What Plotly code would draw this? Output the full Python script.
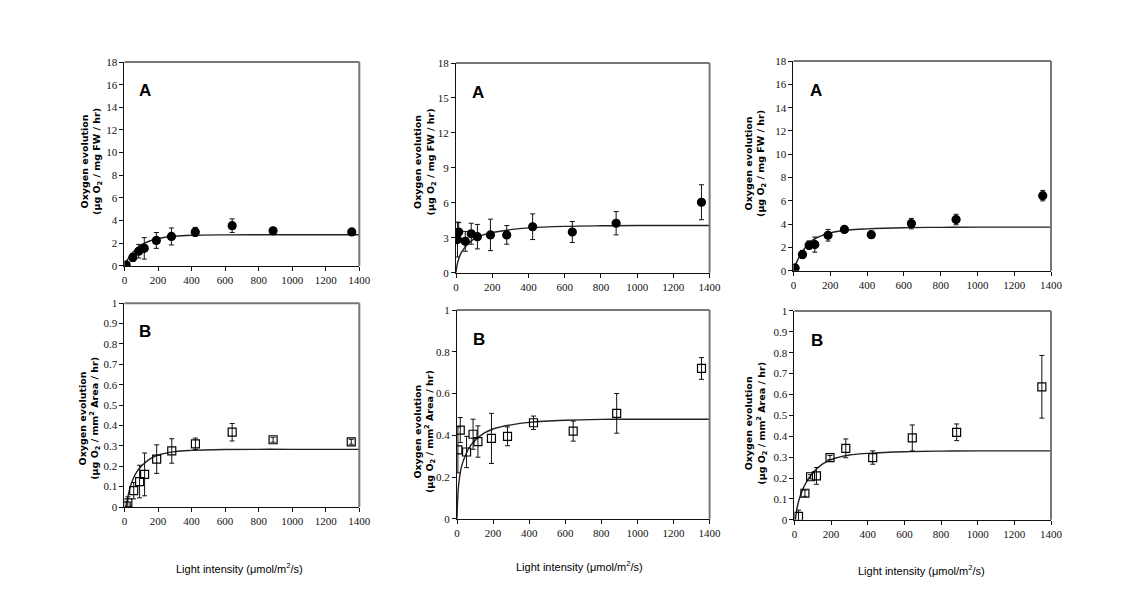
import plotly.graph_objects as go

W, H = 1130, 605

# ---------------- data ----------------
# Row A (per mg FW), filled circles
xA1 = [10, 50, 85, 118, 190, 280, 422, 642, 886, 1355]
yA1 = [0.1, 0.75, 1.3, 1.55, 2.25, 2.6, 3.0, 3.55, 3.1, 3.0]
eA1 = [0.15, 0.35, 0.6, 0.95, 0.7, 0.75, 0.4, 0.6, 0.15, 0.2]
cxA1 = [0, 10, 25, 50, 75, 100, 150, 200, 300, 400, 600, 800, 1000, 1400]
cyA1 = [0, 0.3, 0.7, 1.2, 1.55, 1.85, 2.2, 2.42, 2.62, 2.7, 2.74, 2.75, 2.75, 2.75]

xA2 = [8, 15, 51, 84, 118, 190, 280, 423, 642, 884, 1355]
yA2 = [2.85, 3.5, 2.7, 3.35, 3.1, 3.25, 3.25, 3.95, 3.5, 4.25, 6.05]
eA2 = [1.5, 0.8, 0.85, 0.9, 1.05, 1.35, 0.8, 1.1, 0.9, 1.0, 1.5]
cxA2 = [0, 5, 15, 30, 50, 75, 100, 150, 200, 300, 400, 600, 800, 1000, 1400]
cyA2 = [0, 0.6, 1.2, 1.75, 2.2, 2.6, 2.9, 3.25, 3.45, 3.7, 3.85, 3.98, 4.03, 4.05, 4.05]

xA3 = [9, 49, 85, 116, 188, 277, 423, 641, 884, 1355]
yA3 = [0.25, 1.4, 2.2, 2.25, 3.05, 3.55, 3.1, 4.05, 4.4, 6.45]
eA3 = [0.3, 0.35, 0.35, 0.65, 0.5, 0.25, 0.3, 0.45, 0.45, 0.45]
cxA3 = [0, 10, 25, 50, 75, 100, 150, 200, 300, 400, 600, 800, 1000, 1400]
cyA3 = [0, 0.45, 1.0, 1.7, 2.2, 2.6, 3.0, 3.25, 3.5, 3.6, 3.7, 3.73, 3.75, 3.75]

# Row B (per mm2 area), open squares
xB1 = [10, 20, 55, 90, 120, 192, 282, 423, 642, 886, 1352]
yB1 = [0.005, 0.02, 0.08, 0.125, 0.16, 0.235, 0.275, 0.31, 0.367, 0.33, 0.32]
eB1 = [0.02, 0.03, 0.04, 0.08, 0.105, 0.07, 0.06, 0.028, 0.043, 0.012, 0.012]
cxB1 = [10, 20, 35, 50, 75, 100, 150, 200, 300, 400, 600, 800, 1000, 1400]
cyB1 = [0.0, 0.05, 0.1, 0.135, 0.175, 0.2, 0.235, 0.255, 0.272, 0.278, 0.282, 0.283, 0.283, 0.283]

xB2 = [5, 18, 53, 89, 116, 191, 280, 424, 644, 885, 1355]
yB2 = [0.33, 0.425, 0.32, 0.405, 0.37, 0.385, 0.395, 0.46, 0.42, 0.505, 0.72]
eB2 = [0.11, 0.06, 0.075, 0.072, 0.075, 0.12, 0.045, 0.032, 0.048, 0.095, 0.052]
cxB2 = [0, 3, 10, 25, 50, 75, 100, 150, 200, 300, 400, 600, 800, 1000, 1400]
cyB2 = [0, 0.08, 0.17, 0.25, 0.31, 0.35, 0.375, 0.41, 0.43, 0.45, 0.462, 0.472, 0.476, 0.477, 0.477]

xB3 = [22, 57, 88, 120, 194, 280, 427, 643, 885, 1350]
yB3 = [0.016, 0.127, 0.206, 0.21, 0.298, 0.342, 0.298, 0.392, 0.419, 0.637]
eB3 = [0.03, 0.015, 0.01, 0.04, 0.01, 0.045, 0.032, 0.062, 0.04, 0.15]
cxB3 = [5, 15, 30, 50, 75, 100, 150, 200, 300, 400, 600, 800, 1000, 1400]
cyB3 = [0, 0.06, 0.11, 0.155, 0.195, 0.225, 0.265, 0.288, 0.31, 0.318, 0.326, 0.329, 0.33, 0.33]

panel_letters = ["A", "A", "A", "B", "B", "B"]
ytitle_A = "Oxygen evolution<br>(μg O<sub>2</sub> / mg FW / hr)"
ytitle_B = "Oxygen evolution<br>(μg O<sub>2</sub> / mm<sup>2</sup> Area / hr)"
xtitle = "Light intensity (μmol/m<sup>2</sup>/s)"

# ---------------- layout geometry (pixels) ----------------
# (left, right, top, bottom) of each plot area
boxes = [
    (115, 353, 49, 257),
    (451, 708, 50, 264),
    (793, 1054, 48, 262),
    (115, 353, 295, 503),
    (452, 708, 302, 515),
    (794, 1054, 303, 516),
]
# centre of the rotated y titles (pixels)
ytitle_pos = [(81, 150), (419, 151), (755, 152), (80, 412), (419, 426), (755, 417)]
xtitle_pos = [(232, 565), (576, 563), (923, 567)]
yranges = [(0, 18), (0, 18), (0, 18), (0, 1), (0, 1), (0, 1)]
ydticks = [2, 3, 2, 0.1, 0.2, 0.1]

series = [
    (xA1, yA1, eA1, cxA1, cyA1),
    (xA2, yA2, eA2, cxA2, cyA2),
    (xA3, yA3, eA3, cxA3, cyA3),
    (xB1, yB1, eB1, cxB1, cyB1),
    (xB2, yB2, eB2, cxB2, cyB2),
    (xB3, yB3, eB3, cxB3, cyB3),
]

fig = go.Figure()
tickfont = dict(family="Liberation Serif", size=11, color="#111")

for i, (box, (xs, ys, es, cx, cy)) in enumerate(zip(boxes, series)):
    n = i + 1
    xa = "x" if n == 1 else f"x{n}"
    ya = "y" if n == 1 else f"y{n}"
    l, r, t, b = box
    fig.add_trace(go.Scatter(
        x=cx, y=cy, mode="lines", xaxis=xa, yaxis=ya,
        line=dict(color="#222", width=1.4, shape="spline", smoothing=1.0),
        showlegend=False, hoverinfo="skip"))
    top_row = i < 3
    fig.add_trace(go.Scatter(
        x=xs, y=ys, mode="markers", xaxis=xa, yaxis=ya,
        error_y=dict(type="data", array=es, color="#111", thickness=1, width=2.5),
        marker=dict(
            symbol="circle" if top_row else "square-open",
            size=8,
            color="#000",
            line=dict(color="#000", width=1.2)),
        showlegend=False))

    xkey = "xaxis" if n == 1 else f"xaxis{n}"
    ykey = "yaxis" if n == 1 else f"yaxis{n}"
    fig.update_layout(**{
        xkey: dict(domain=[l / W, r / W], anchor=ya, range=[0, 1400],
                   tickmode="linear", tick0=0, dtick=200,
                   showgrid=False, zeroline=False, showline=True,
                   linecolor="#111", linewidth=1, ticks="outside",
                   ticklen=4, tickcolor="#111", tickfont=tickfont),
        ykey: dict(domain=[1 - b / H, 1 - t / H], anchor=xa,
                   range=list(yranges[i]), tickmode="linear", tick0=0,
                   dtick=ydticks[i], showgrid=False, zeroline=False,
                   showline=True, linecolor="#111", linewidth=1,
                   ticks="outside", ticklen=4, tickcolor="#111",
                   tickfont=tickfont),
    })
    # grey top and right frame lines
    xd = f"{xa} domain"
    yd = f"{ya} domain"
    fig.add_shape(type="line", xref=xd, yref=yd, x0=0, x1=1, y0=1, y1=1,
                  line=dict(color="#777", width=2))
    fig.add_shape(type="line", xref=xd, yref=yd, x0=1, x1=1, y0=0, y1=1,
                  line=dict(color="#777", width=2))
    # panel letter
    fig.add_annotation(xref=xd, yref=yd, x=0.055, y=0.86,
                       text=f"<b>{panel_letters[i]}</b>", showarrow=False,
                       xanchor="left", yanchor="middle",
                       font=dict(family="Liberation Sans Narrow, Liberation Sans", size=17, color="#000"))
    # y title
    tx, ty = ytitle_pos[i]
    fig.add_annotation(xref="paper", yref="paper",
                       x=tx / W, y=1 - ty / H,
                       text=f"<b>{ytitle_A if top_row else ytitle_B}</b>",
                       textangle=-90, showarrow=False,
                       xanchor="center", yanchor="middle",
                       font=dict(family="DejaVu Sans", size=9.5, color="#000"))
    if not top_row:
        px, py = xtitle_pos[i - 3]
        fig.add_annotation(xref="paper", yref="paper",
                           x=px / W, y=1 - py / H,
                           text=xtitle, showarrow=False,
                           xanchor="center", yanchor="middle",
                           font=dict(family="Liberation Sans Narrow, Liberation Sans", size=11, color="#000"))

fig.update_layout(width=W, height=H, margin=dict(l=0, r=0, t=0, b=0),
                  paper_bgcolor="white", plot_bgcolor="white",
                  autosize=False)

fig.write_html("out.html")
